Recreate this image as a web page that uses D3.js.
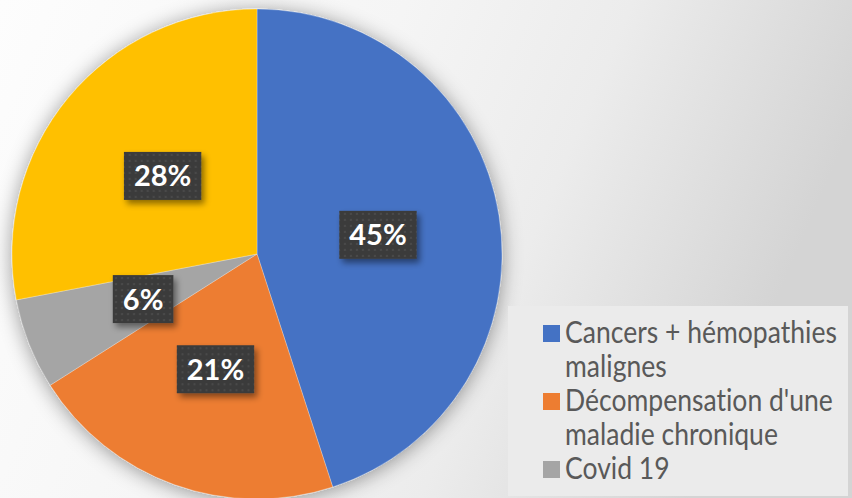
<!DOCTYPE html>
<html>
<head>
<meta charset="utf-8">
<script src="https://cdn.jsdelivr.net/npm/d3@7"></script>
<style>
  body { margin: 0; overflow: hidden; }
  svg { display: block; }
  text { font-variant-ligatures: none; }
</style>
</head>
<body>
<div id="chart"></div>
<script>
const width = 852;
const height = 498;

// data
const categories = ["Cancers + hémopathies malignes", "Décompensation d'une maladie chronique", "Covid 19", "Autres"];
const values = [45, 21, 6, 28];
const legendLines = [["Cancers + hémopathies", "malignes"], ["Décompensation d'une", "maladie chronique"], ["Covid 19"]];
const colors = ["#4472C4", "#ED7D31", "#A5A5A5", "#FFC000"];

const svg = d3.select("#chart").append("svg")
    .attr("width", width)
    .attr("height", height);

const defs = svg.append("defs");

const bg = defs.append("linearGradient")
    .attr("id", "bg")
    .attr("x1", 0).attr("y1", 0).attr("x2", 1).attr("y2", 0.25);
bg.append("stop").attr("offset", 0).attr("stop-color", "#fdfdfd");
bg.append("stop").attr("offset", 0.45).attr("stop-color", "#f5f5f5");
bg.append("stop").attr("offset", 0.7).attr("stop-color", "#ececec");
bg.append("stop").attr("offset", 1).attr("stop-color", "#d4d4d4");

const pieShadow = defs.append("filter")
    .attr("id", "pieShadow")
    .attr("x", -0.2).attr("y", -0.2).attr("width", 1.4).attr("height", 1.4);
pieShadow.append("feDropShadow")
    .attr("dx", 0).attr("dy", 2)
    .attr("stdDeviation", 10)
    .attr("flood-color", "#000")
    .attr("flood-opacity", 0.4);

const boxShadow = defs.append("filter")
    .attr("id", "boxShadow")
    .attr("x", -0.3).attr("y", -0.3).attr("width", 1.7).attr("height", 1.7);
boxShadow.append("feDropShadow")
    .attr("dx", 3).attr("dy", 4)
    .attr("stdDeviation", 3)
    .attr("flood-color", "#000")
    .attr("flood-opacity", 0.45);

const dots = defs.append("pattern")
    .attr("id", "dots")
    .attr("width", 6).attr("height", 6)
    .attr("patternUnits", "userSpaceOnUse");
dots.append("rect").attr("width", 6).attr("height", 6).attr("fill", "#3b3b3b");
dots.append("circle").attr("cx", 3).attr("cy", 3).attr("r", 1.1).attr("fill", "#4d4d4d");

svg.append("rect")
    .attr("width", width)
    .attr("height", height)
    .attr("fill", "url(#bg)");

// pie
const cx = 257, cy = 254, radius = 245;

const pie = d3.pie().sort(null).value(d => d);
const arcs = pie(values);
const arc = d3.arc().innerRadius(0).outerRadius(radius);

const g = svg.append("g")
    .attr("transform", `translate(${cx},${cy})`);

g.append("g")
    .attr("filter", "url(#pieShadow)")
  .selectAll("path")
  .data(arcs)
  .join("path")
    .attr("d", arc)
    .attr("fill", (d, i) => colors[i])
    .attr("stroke", "rgba(255,255,255,0.35)")
    .attr("stroke-width", 0.8);

// data labels
const labels = g.append("g")
  .selectAll("g")
  .data(arcs)
  .join("g")
    .attr("transform", d => `translate(${arc.centroid(d)})`);

labels.append("text")
    .attr("text-anchor", "middle")
    .attr("dy", "0.36em")
    .attr("fill", "#fff")
    .attr("font-family", "Lato, 'Open Sans', sans-serif")
    .attr("font-weight", "bold")
    .attr("font-size", 29)
    .text(d => d.data + "%");

labels.each(function() {
    const t = d3.select(this).select("text");
    const w = t.node().getComputedTextLength() + 20;
    d3.select(this).insert("rect", "text")
        .attr("x", -w / 2)
        .attr("y", -24)
        .attr("width", w)
        .attr("height", 48)
        .attr("fill", "url(#dots)")
        .attr("filter", "url(#boxShadow)");
});

// legend
const legend = svg.append("g");

legend.append("rect")
    .attr("x", 508)
    .attr("y", 306)
    .attr("width", 340)
    .attr("height", 190)
    .attr("fill", "#ebebeb");

const lineH = 34;
const textX = 565;
let row = 0;
const legendTexts = [];
legendLines.forEach((lines, i) => {
    const y0 = 333 + row * lineH;
    legend.append("rect")
        .attr("x", 543)
        .attr("y", y0 - 8)
        .attr("width", 17)
        .attr("height", 17)
        .attr("fill", colors[i]);
    lines.forEach((s, j) => {
        const t = legend.append("text")
            .attr("x", 0)
            .attr("y", 0)
            .attr("fill", "#595959")
            .attr("font-family", "Lato, 'Open Sans', sans-serif")
            .attr("font-size", 30)
            .text(s);
        legendTexts.push({ t, y: y0 + j * lineH + 10 });
    });
    row += lines.length;
});

// condensed face: squeeze so the first line spans about 272px
const firstW = legendTexts[0].t.node().getComputedTextLength();
const sx = 272 / firstW;
legendTexts.forEach(({ t, y }) => {
    t.attr("transform", `translate(${textX},${y}) scale(${sx},1)`);
});
</script>
</body>
</html>
